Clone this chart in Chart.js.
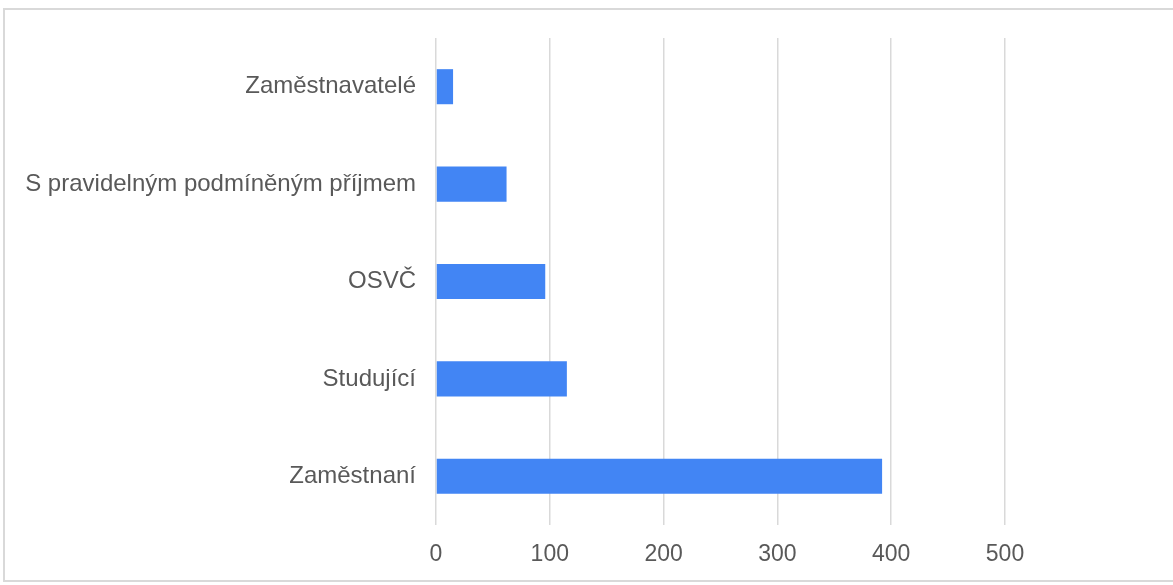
<!DOCTYPE html>
<html>
<head>
<meta charset="utf-8">
<script src="https://cdn.jsdelivr.net/npm/chart.js@4"></script>
<style>
    html, body { margin: 0; padding: 0; background: #ffffff; }
    #frame {
        position: absolute; left: 3px; top: 8px; width: 1200px; height: 574px;
        border: 2px solid #d9d9d9; box-sizing: border-box;
    }
    #wrap { position: absolute; left: 0; top: 0; width: 1173px; height: 585px; }
</style>
</head>
<body>
<div id="frame"></div>
<div id="wrap"><canvas id="chart"></canvas></div>
<script>
// Categories and values (top to bottom)
const categories = ["Zaměstnavatelé", "S pravidelným podmíněným příjmem", "OSVČ", "Studující", "Zaměstnaní"];
const counts = [15, 62, 96, 115, 392];
const xTicks = [0, 100, 200, 300, 400, 500];

document.addEventListener("DOMContentLoaded", () => {
    const ctx = document.getElementById("chart").getContext("2d");

    new Chart(ctx, {
        type: "bar",
        data: {
            labels: categories,
            datasets: [
                {
                    data: counts,
                    backgroundColor: "#4285f4",
                    borderWidth: 0,
                    categoryPercentage: 1,
                    barPercentage: 0.36,
                },
            ],
        },
        options: {
            indexAxis: "y",
            responsive: true,
            maintainAspectRatio: false,
            animation: false,
            layout: { padding: { top: 38, right: 168, left: 0, bottom: 0 } },
            plugins: {
                legend: { display: false },
                tooltip: { enabled: false },
            },
            scales: {
                x: {
                    min: 0,
                    max: 500,
                    afterBuildTicks: (scale) => {
                        scale.ticks = xTicks.map((v) => ({ value: v }));
                    },
                    afterFit: (scale) => { scale.height = 60; },
                    grid: { color: "#d9d9d9", lineWidth: 1.5, drawTicks: false },
                    border: { display: false },
                    ticks: {
                        color: "#595959",
                        padding: 16,
                        font: { family: "'Liberation Sans', Arial, sans-serif", size: 23 },
                    },
                },
                y: {
                    afterFit: (scale) => { scale.width = 436; },
                    grid: { display: false, drawTicks: false },
                    border: { display: false },
                    ticks: {
                        color: "#595959",
                        padding: 20,
                        font: { family: "'Liberation Sans', Arial, sans-serif", size: 24 },
                    },
                },
            },
        },
    });
});
</script>
</body>
</html>
